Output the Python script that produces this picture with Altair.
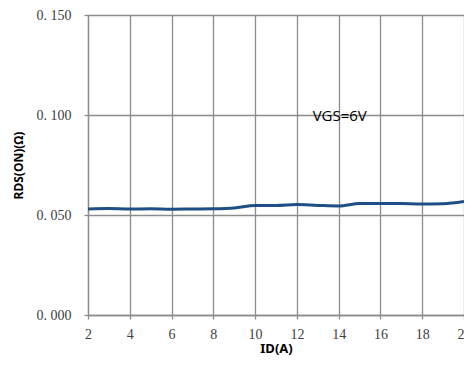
import altair as alt
import pandas as pd

id_a = [2, 3, 4, 5, 6, 7, 8, 9, 10, 11, 12, 13, 14, 15, 16, 17, 18, 19, 20]
rds_on = [0.0530, 0.0532, 0.0530, 0.0531, 0.0529, 0.0530, 0.0531, 0.0535, 0.0548, 0.0547,
          0.0552, 0.0548, 0.0545, 0.0557, 0.0558, 0.0557, 0.0555, 0.0556, 0.0567]
x_ticks = [2, 4, 6, 8, 10, 12, 14, 16, 18, 20]
y_ticks = [0.0, 0.05, 0.10, 0.15]
note_text = ["VGS=6V"]
note_x = [14.05]
note_y = [0.0995]

df = pd.DataFrame({"ID": id_a, "RDS": rds_on})
note = pd.DataFrame({"x": note_x, "y": note_y, "t": note_text})

grid = "#8c8c8c"
label_font = "Liberation Serif"

x_scale = alt.Scale(domain=[2, 20], nice=False, zero=False)
y_scale = alt.Scale(domain=[0, 0.15], nice=False)

line = alt.Chart(df).mark_line(
    color="#1f4e85", strokeWidth=3, interpolate="monotone"
).encode(
    x=alt.X("ID:Q", scale=x_scale, axis=alt.Axis(
        values=x_ticks, title="ID(A)", grid=True, gridColor=grid, gridWidth=1.3,
        domainColor=grid, domainWidth=1.3, tickColor=grid, tickSize=4, tickWidth=1.3,
        labelFont=label_font, labelFontSize=14, labelColor="#404040", labelPadding=8,
        labelFlush=False,
        titleFont="Noto Sans", titleFontSize=13, titleFontWeight="bold", titleColor="#000000",
        titleX=188, titleY=33, titleBaseline="middle", titleAlign="center",
    )),
    y=alt.Y("RDS:Q", scale=y_scale, axis=alt.Axis(
        values=y_ticks, title="RDS(ON)(Ω)", grid=True, gridColor=grid, gridWidth=1.3,
        domainColor=grid, domainWidth=1.3, tickColor=grid, tickSize=4, tickWidth=1.3,
        labelFont=label_font, labelFontSize=14, labelColor="#404040", labelPadding=13,
        labelExpr="replace(format(datum.value, '.3f'), '.', '. ')",
        titleFont="Noto Sans", titleFontSize=12, titleFontWeight="bold", titleColor="#000000",
        titleX=-70, titleY=150, titleAngle=-90, titleBaseline="middle", titleAlign="center",
    )),
)

text = alt.Chart(note).mark_text(
    font="Open Sans", fontSize=15, color="#000000", baseline="middle", align="center"
).encode(x=alt.X("x:Q", scale=x_scale), y=alt.Y("y:Q", scale=y_scale), text="t:N")

chart = (line + text).properties(
    width=376, height=300,
    autosize=alt.AutoSizeParams(type="none"),
    padding={"left": 80, "top": 7, "right": 0, "bottom": 45},
).configure_view(stroke=grid, strokeWidth=1.3).configure(background="white")

chart.save("out.html", embed_options={"renderer": "svg", "actions": False})
